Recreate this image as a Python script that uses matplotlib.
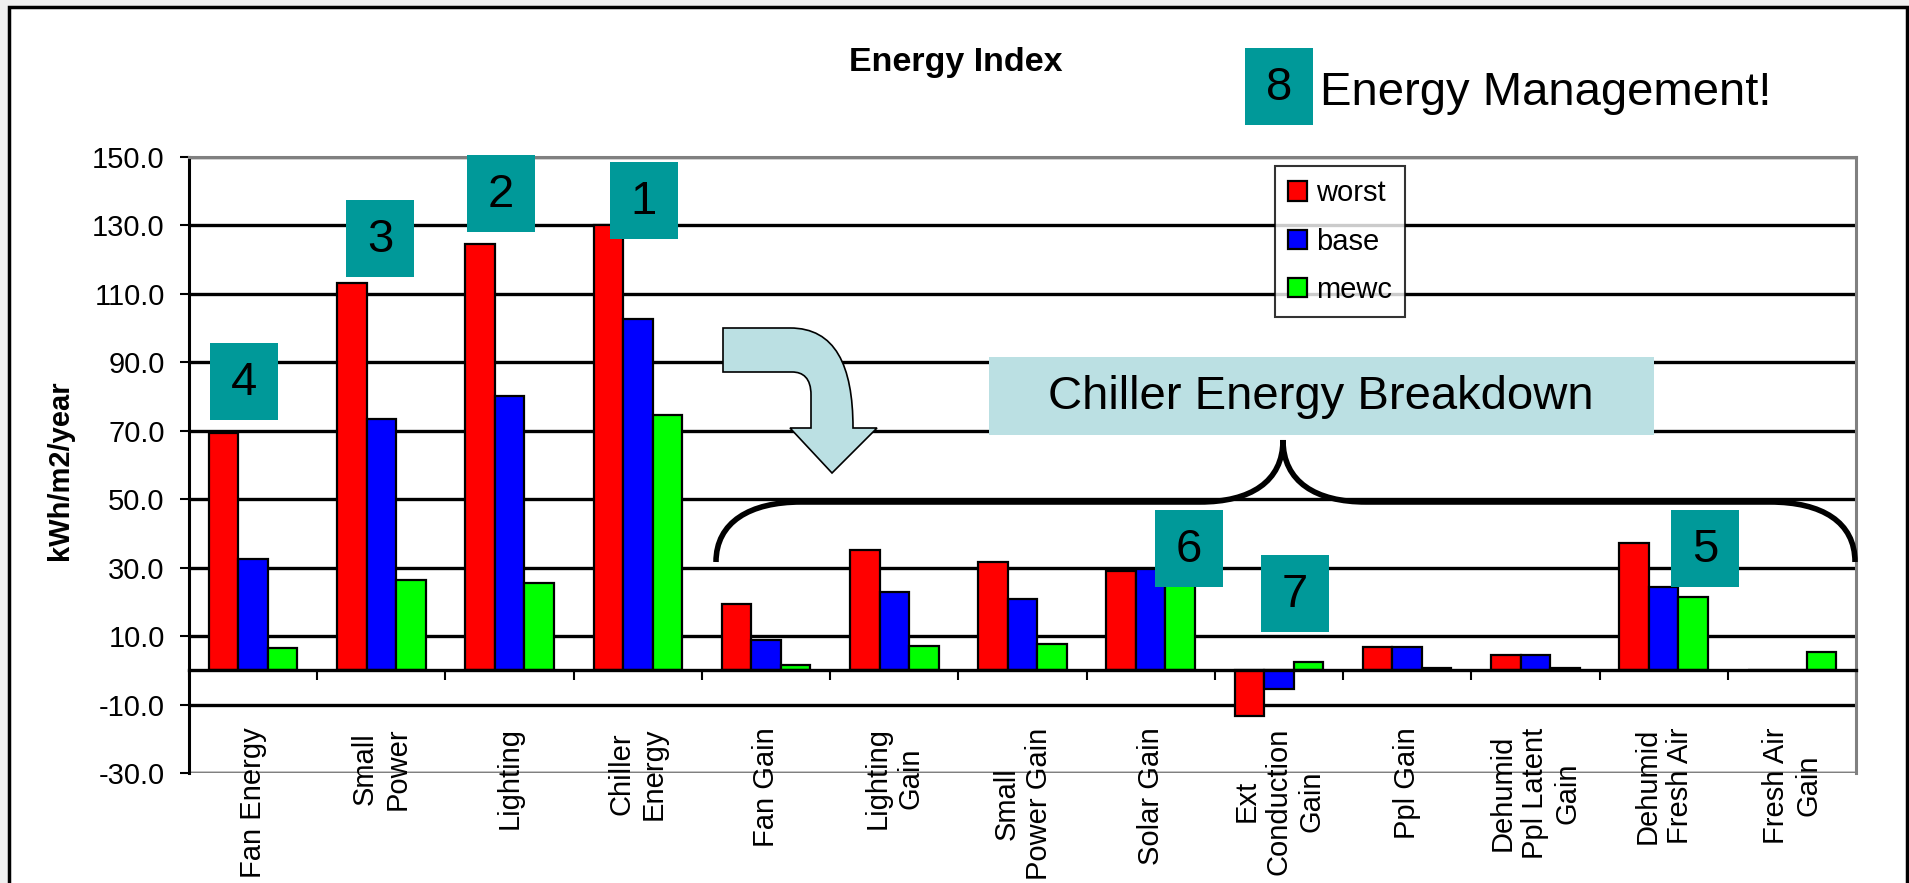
import matplotlib
matplotlib.use("Agg")
import matplotlib.pyplot as plt
from matplotlib.patches import Rectangle, PathPatch
from matplotlib.path import Path
import numpy as np

plt.rcParams["font.family"] = ["Liberation Sans", "DejaVu Sans"]

CATEGORIES = ["Fan Energy", "Small\nPower", "Lighting", "Chiller\nEnergy", "Fan Gain",
              "Lighting\nGain", "Small\nPower Gain", "Solar Gain", "Ext\nConduction\nGain",
              "Ppl Gain", "Dehumid\nPpl Latent\nGain", "Dehumid\nFresh Air", "Fresh Air\nGain"]
WORST = [69.4, 113.1, 124.6, 130.0, 19.3, 35.1, 31.6, 28.9, -13.4, 6.7, 4.4, 37.2, 0.0]
BASE = [32.4, 73.5, 80.3, 102.8, 9.0, 22.8, 20.8, 29.5, -5.5, 6.7, 4.4, 24.3, 0.0]
MEWC = [6.4, 26.3, 25.6, 74.6, 1.5, 7.0, 7.8, 27.0, 2.3, 0.8, 0.8, 21.4, 5.3]
SERIES = ["worst", "base", "mewc"]
COLORS = ["#ff0000", "#0000ff", "#00ff00"]
YTICKS = [-30, -10, 10, 30, 50, 70, 90, 110, 130, 150]

# numbered callouts (label, left px, top px)
CALLOUTS = [("4", 210, 343), ("3", 346, 200), ("2", 467, 155), ("1", 610, 162),
            ("6", 1155, 510), ("7", 1261, 555), ("5", 1671, 510), ("8", 1245, 48)]

W, H = 1909, 883
TEAL = "#009999"
PALE = "#bbe0e3"


def px_axes(fig, z):
    a = fig.add_axes([0, 0, 1, 1], zorder=z)
    a.set_xlim(0, W)
    a.set_ylim(H, 0)
    a.axis("off")
    a.patch.set_alpha(0)
    return a


def main():
    fig = plt.figure(figsize=(W / 100, H / 100), dpi=100)
    fig.patch.set_facecolor("#f0f0f0")

    bg = px_axes(fig, 0)
    bg.add_patch(Rectangle((9, 7), W - 11, H + 20, facecolor="white", edgecolor="black", lw=2.5))

    left, right, top, bottom = 189, 1856, 157, 773
    ax = fig.add_axes([left / W, 1 - bottom / H, (right - left) / W, (bottom - top) / H], zorder=1)
    ax.patch.set_alpha(0)

    x = np.arange(len(CATEGORIES))
    w = 0.23
    for k, (vals, name, col) in enumerate(zip([WORST, BASE, MEWC], SERIES, COLORS)):
        ax.bar(x + (k - 1) * w, vals, width=w, color=col, edgecolor="black",
               linewidth=1.6, label=name, zorder=3)

    ax.set_xlim(-0.5, len(CATEGORIES) - 0.5)
    ax.set_ylim(-30, 150)
    ax.set_yticks(YTICKS, [f"{v:.1f}" for v in YTICKS])
    ax.yaxis.grid(True, color="black", linewidth=2.4)
    ax.set_axisbelow(True)
    ax.tick_params(axis="y", labelsize=21, length=6.5, width=1.5, pad=11)

    ax.spines["bottom"].set_position(("data", 0))
    ax.spines["bottom"].set_linewidth(2.4)
    ax.spines["bottom"].set_zorder(4)
    ax.spines["left"].set_linewidth(2.2)
    for s in ["top", "right"]:
        ax.spines[s].set_color("#808080")
        ax.spines[s].set_linewidth(2.2)
    ax.axhline(-30, color="#808080", linewidth=2.4, zorder=2)
    ax.set_xticks([])
    ax.set_xticks(np.arange(-0.5, len(CATEGORIES)), minor=True)
    ax.tick_params(axis="x", which="minor", length=7, width=1.5, direction="out")
    ax.tick_params(axis="x", which="major", length=0)

    for i, lab in enumerate(CATEGORIES):
        ax.text(i, -16.7, lab, rotation=90, ha="center", va="top", multialignment="center",
                fontsize=21, clip_on=False, linespacing=1.2)

    leg = ax.legend(loc="upper left", bbox_to_anchor=(1275 / W, 1 - 166 / H),
                    bbox_transform=fig.transFigure, fontsize=21, frameon=True, fancybox=False,
                    handlelength=0.65, handleheight=0.65, handletextpad=0.3, borderpad=0.45,
                    labelspacing=0.7, borderaxespad=0)
    leg.get_frame().set_edgecolor("black")
    leg.get_frame().set_linewidth(1.5)

    fig.text(60 / W, 1 - 470 / H, "kWh/m2/year", rotation=90, ha="center", va="center",
             fontsize=21, fontweight="bold")
    fig.text(956 / W, 1 - 71 / H, "Energy Index", ha="center", va="baseline",
             fontsize=24.5, fontweight="bold")

    ov = px_axes(fig, 3)

    # curved arrow
    M, L, C, Z = Path.MOVETO, Path.LINETO, Path.CURVE4, Path.CLOSEPOLY
    verts = [(723, 328), (790, 328), (835, 328), (853, 365), (853, 428), (877, 428), (832, 473),
             (790, 428), (811, 428), (811, 395), (811, 378), (803, 372), (792, 372), (723, 372),
             (723, 328)]
    codes = [M, L, C, C, C, L, L, L, L, L, C, C, C, L, Z]
    ov.add_patch(PathPatch(Path(verts, codes), facecolor=PALE, edgecolor="black", lw=1.2))

    # brace
    bverts = [(716, 562), (716, 522), (750, 502), (801, 502), (1200, 502), (1250, 502),
              (1283, 482), (1283, 440), (1283, 482), (1316, 502), (1366, 502), (1770, 502),
              (1822, 502), (1855, 522), (1855, 562)]
    bcodes = [M, C, C, C, L, C, C, C, C, C, C, L, C, C, C]
    ov.add_patch(PathPatch(Path(bverts, bcodes), facecolor="none", edgecolor="black", lw=4))

    ov.add_patch(Rectangle((989, 357), 665, 78, facecolor=PALE, edgecolor="none"))
    ov.text(1321, 397, "Chiller Energy Breakdown", ha="center", va="center", fontsize=34)

    for lab, x0, y0 in CALLOUTS:
        ov.add_patch(Rectangle((x0, y0), 68, 77, facecolor=TEAL, edgecolor="none"))
        ov.text(x0 + 34, y0 + 40, lab, ha="center", va="center", fontsize=34)

    ov.text(1320, 105, "Energy Management!", ha="left", va="baseline", fontsize=34)

    fig.savefig("out.png", dpi=100, facecolor=fig.get_facecolor())


if __name__ == "__main__":
    main()
